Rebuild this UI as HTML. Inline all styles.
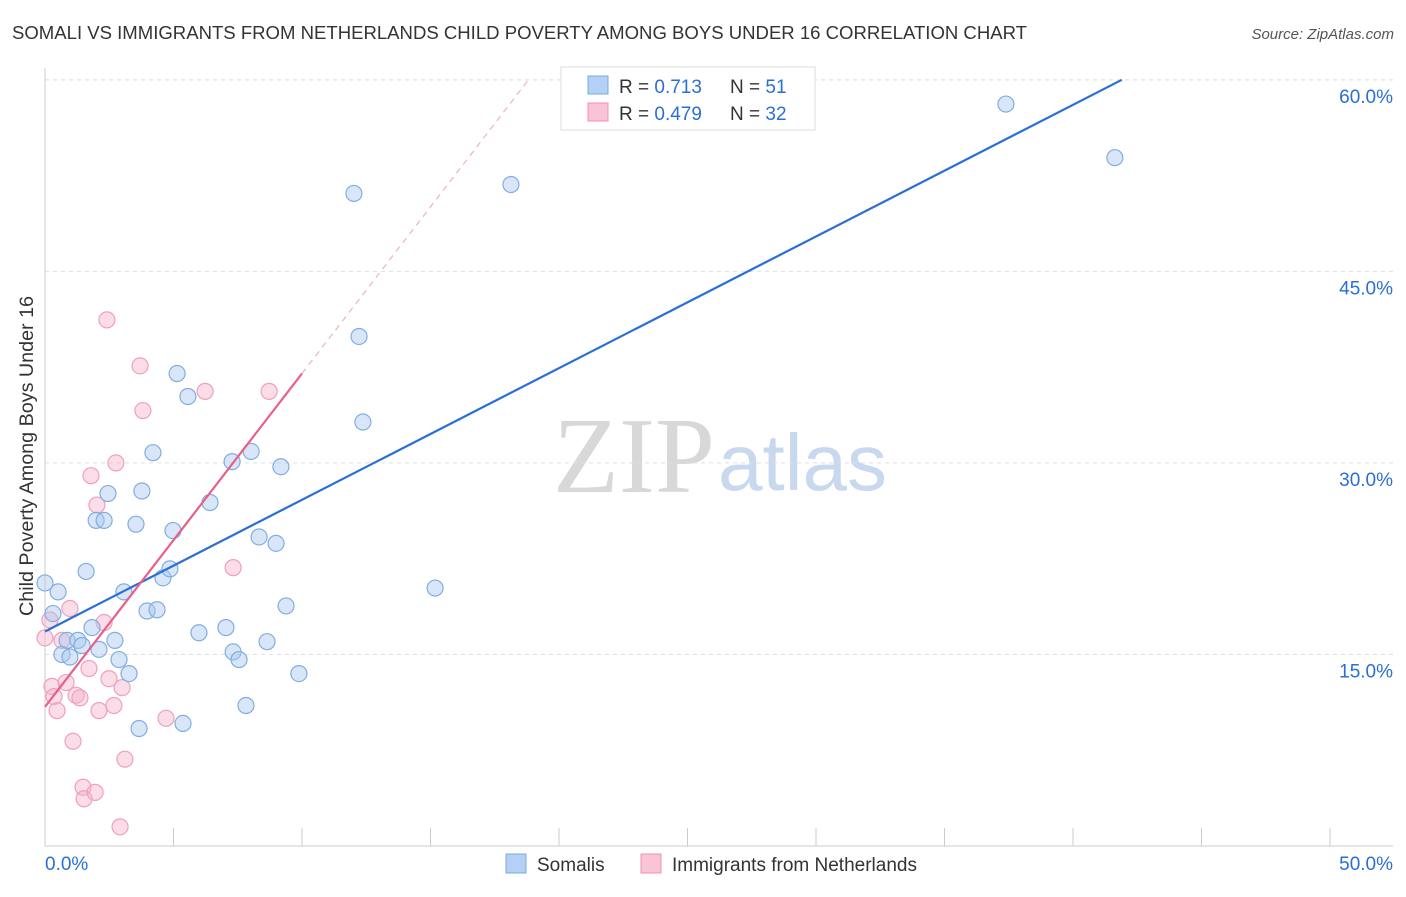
<!DOCTYPE html>
<html><head><meta charset="utf-8"><style>
body{margin:0;background:#fff;font-family:"Liberation Sans",sans-serif}
</style></head><body>
<svg id="chart" width="1406" height="892" xmlns="http://www.w3.org/2000/svg">
<text x="12" y="39" font-size="18" fill="#333" textLength="1015" lengthAdjust="spacingAndGlyphs">SOMALI VS IMMIGRANTS FROM NETHERLANDS CHILD POVERTY AMONG BOYS UNDER 16 CORRELATION CHART</text>
<text x="1394" y="39" font-size="15" fill="#555" font-style="italic" text-anchor="end">Source: ZipAtlas.com</text>
<text x="715" y="492" font-size="108" fill="#d8d8d8" font-family="Liberation Serif,serif" text-anchor="end">ZIP</text>
<text x="718" y="490" font-size="80" fill="#c8d8ee" text-anchor="start">atlas</text>
<text transform="translate(33,456) rotate(-90)" font-size="19" fill="#333" text-anchor="middle" textLength="320" lengthAdjust="spacingAndGlyphs">Child Poverty Among Boys Under 16</text>
<g id="grid"></g><g id="marks"></g>
<g>
<rect x="561" y="67" width="254" height="63" fill="#fff" stroke="#ddd"/>
<rect x="588" y="76" width="20" height="18" fill="#b4d0f4" stroke="#7aaae0"/>
<rect x="588" y="103" width="20" height="18" fill="#f9c4d6" stroke="#f090b0"/>
<text x="619" y="93" font-size="19" fill="#333">R = <tspan fill="#2a6fd6">0.713</tspan></text>
<text x="730" y="93" font-size="19" fill="#333">N = <tspan fill="#2a6fd6">51</tspan></text>
<text x="619" y="120" font-size="19" fill="#333">R = <tspan fill="#2a6fd6">0.479</tspan></text>
<text x="730" y="120" font-size="19" fill="#333">N = <tspan fill="#2a6fd6">32</tspan></text>
</g>
<g>
<rect x="506" y="854" width="20" height="19" fill="#b4d0f4" stroke="#7aaae0"/>
<text x="537" y="871" font-size="19" fill="#333">Somalis</text>
<rect x="641" y="854" width="20" height="19" fill="#f9c4d6" stroke="#f090b0"/>
<text x="672" y="871" font-size="19" fill="#333">Immigrants from Netherlands</text>
</g>
</svg>
<script>
const yTicks=[15,30,45,60];
const xTickLabels=["0.0%","50.0%"];
const blueX=[0,0.31,0.51,0.66,0.97,0.86,1.28,1.44,1.60,1.83,1.99,2.30,2.10,2.45,2.72,2.88,3.27,3.07,3.54,3.77,3.66,3.97,4.20,4.36,4.59,4.86,4.98,5.14,5.56,5.37,5.99,6.42,7.04,7.28,7.32,7.55,7.82,8.02,8.33,8.64,8.99,9.18,9.38,9.88,12.02,12.22,12.37,15.18,18.13,37.39,41.63];
const blueY=[20.6,18.2,19.9,15.0,14.8,16.1,16.1,15.7,21.5,17.1,25.5,25.5,15.4,27.6,16.1,14.6,13.5,19.9,25.2,27.8,9.2,18.4,30.8,18.5,21.0,21.7,24.7,37.0,35.2,9.6,16.7,26.9,17.1,30.1,15.2,14.6,11.0,30.9,24.2,16.0,23.7,29.7,18.8,13.5,51.1,39.9,33.2,20.2,51.8,58.1,53.9];
const pinkX=[0,0.19,0.27,0.35,0.47,0.66,0.82,0.97,1.09,1.21,1.36,1.48,1.52,1.71,1.79,1.95,2.02,2.10,2.30,2.41,2.49,2.68,2.76,2.92,3.00,3.11,3.70,3.81,4.71,6.23,7.32,8.72];
const pinkY=[16.3,17.7,12.5,11.7,10.6,16.1,12.8,18.6,8.2,11.8,11.6,4.6,3.7,13.9,29.0,4.2,26.7,10.6,17.5,41.2,13.1,11.0,30.0,1.5,12.4,6.8,37.6,34.1,10.0,35.6,21.8,35.6];
const blueFit=[16.8,1.031];
const pinkFit=[10.9,2.61];
const NS="http://www.w3.org/2000/svg";
const X=v=>45+v*25.7, Y=v=>846-v*12.77;
function mk(t,a,p){const e=document.createElementNS(NS,t);for(const k in a)e.setAttribute(k,a[k]);p.appendChild(e);return e;}
const g=document.getElementById('grid'),m=document.getElementById('marks');
yTicks.forEach(t=>{
 const l=mk('line',{x1:45,x2:1393,y1:Y(t),y2:Y(t),stroke:'#e0e0e0','stroke-dasharray':'4,4'},g);
 
 
 const tx=mk('text',{x:1393,y:Y(t)+23,'font-size':19,fill:'#2a6fd6','text-anchor':'end'},g);tx.textContent=t.toFixed(1)+'%';
 
 
});
mk('line',{x1:45,x2:1393,y1:80,y2:80,stroke:'#e0e0e0','stroke-dasharray':'4,4'},g);
mk('line',{x1:45,x2:45,y1:68,y2:846,stroke:'#ccc'},g);
mk('line',{x1:45,x2:1393,y1:846,y2:846,stroke:'#ccc'},g);
for(let i=1;i<=10;i++){const t=mk('line',{x1:X(i*5),x2:X(i*5),y1:828,y2:846,stroke:'#ccc'},g);
 
 }
const xl0=mk('text',{x:45,y:870,'font-size':19,fill:'#2a6fd6'},g);xl0.textContent=xTickLabels[0];


const xl1=mk('text',{x:1393,y:870,'font-size':19,fill:'#2a6fd6','text-anchor':'end'},g);xl1.textContent=xTickLabels[1];


pinkX.forEach((v,i)=>{const c=mk('circle',{cx:X(v),cy:Y(pinkY[i]),r:8,fill:'rgba(245,180,204,0.45)',stroke:'#f0a0bc','stroke-width':1.2},m);
 
 });
blueX.forEach((v,i)=>{const c=mk('circle',{cx:X(v),cy:Y(blueY[i]),r:8,fill:'rgba(168,200,240,0.45)',stroke:'#80aee2','stroke-width':1.2},m);
 
 });
const bxEnd=(60-blueFit[0])/blueFit[1];
const bl=mk('line',{x1:X(0),y1:Y(blueFit[0]),x2:X(bxEnd),y2:Y(60),stroke:'#2a6fd6','stroke-width':2.2},m);


const pEnd=(60-pinkFit[0])/pinkFit[1];
const pd=mk('line',{x1:X(10),y1:Y(pinkFit[0]+10*pinkFit[1]),x2:X(pEnd),y2:Y(60),stroke:'#eeb0c4','stroke-width':1.2,'stroke-dasharray':'6,5'},m);


const pl=mk('line',{x1:X(0),y1:Y(pinkFit[0]),x2:X(10),y2:Y(pinkFit[0]+10*pinkFit[1]),stroke:'#e8608a','stroke-width':2.2},m);


</script>
</body></html>
